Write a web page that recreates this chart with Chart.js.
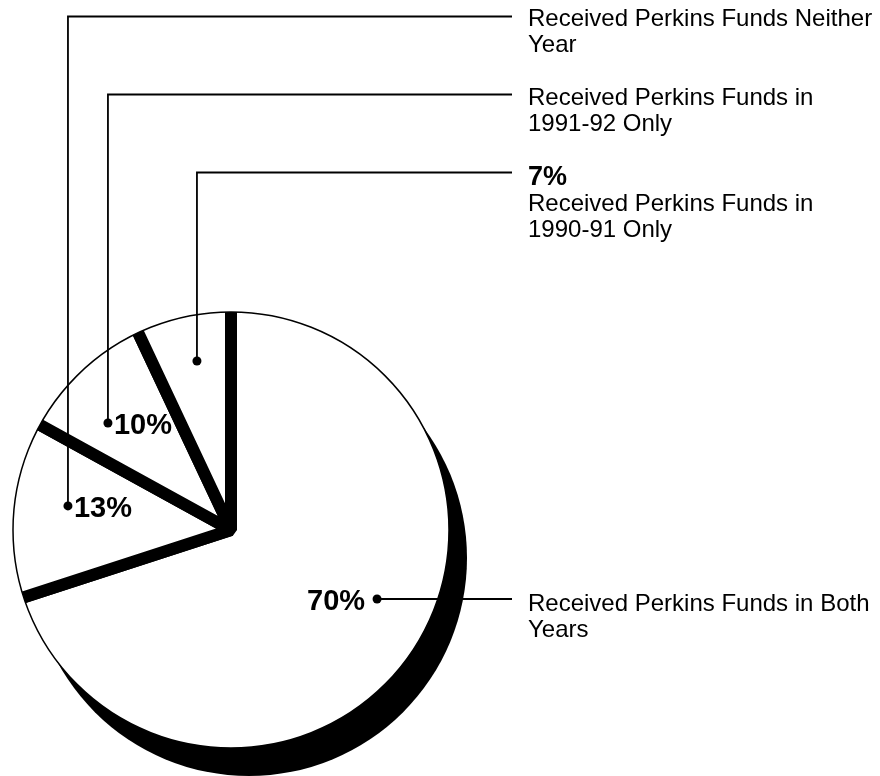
<!DOCTYPE html>
<html>
<head>
<meta charset="utf-8">
<script src="https://cdn.jsdelivr.net/npm/chart.js@4.4.1/dist/chart.umd.min.js"></script>
<style>
  html, body { margin: 0; background: #fff; }
  canvas { display: block; }
</style>
</head>
<body>
<canvas id="grafico" width="880" height="776"></canvas>
<script>

// categorias e percentuais da pizza
const categorias = [
  'Received Perkins Funds in Both Years',
  'Received Perkins Funds Neither Year',
  'Received Perkins Funds in 1991-92 Only',
  'Received Perkins Funds in 1990-91 Only'
];
const percentuais = [70, 13, 10, 7];

// o texto de cada categoria quebrado em linhas do jeito que vai no desenho
const linhasRotulo = [
  ['Received Perkins Funds in Both', 'Years'],
  ['Received Perkins Funds Neither', 'Year'],
  ['Received Perkins Funds in', '1991-92 Only'],
  ['Received Perkins Funds in', '1990-91 Only']
];


// medidas do desenho
const RAIO = 218;        // raio que aparece
const FOLGA = 7;         // o arco do chart.js é maior e depois é recortado
const FAIXA = 12;        // faixa preta entre as fatias
const SOMBRA = { dx: 18, dy: 28 };

// onde cai o ponto de cada fatia: fração do ângulo e fração do raio
const ancoras = [
  { t: 0.4575, r: 0.741 },
  { t: 0.564, r: 0.756 },
  { t: 0.339, r: 0.748 },
  { t: 0.548, r: 0.791 }
];
// altura da linha horizontal de cada rótulo (null = mesma altura do ponto)
const alturaLinha = [null, 16.5, 94.5, 172.5];
// quanto a primeira linha de texto desce em relação à linha de chamada
const desceTexto = [12, 9, 10, 12];
const xFimLinha = 512;
const xTexto = 528;

const fonteTexto = '24px "Liberation Sans", Arial, sans-serif';
const fontePct = 'bold 29px "Liberation Sans", Arial, sans-serif';


// sombra, recorte e rótulos ficam num plugin
const pizzaPlugin = {
  id: 'pizzaPlugin',
  beforeDatasetsDraw(chart) {
    const ctx = chart.ctx;
    const a = chart.getDatasetMeta(0).data[0];

    // sombra preta por baixo
    ctx.save();
    ctx.fillStyle = '#000';
    ctx.beginPath();
    ctx.arc(a.x + SOMBRA.dx, a.y + SOMBRA.dy, RAIO, 0, Math.PI * 2);
    ctx.fill();
    ctx.restore();

    // recorta no circulo, assim a borda grossa só fica entre as fatias
    ctx.save();
    ctx.beginPath();
    ctx.arc(a.x, a.y, RAIO, 0, Math.PI * 2);
    ctx.clip();
  },
  afterDatasetsDraw(chart) {
    const ctx = chart.ctx;
    ctx.restore();

    const arcos = chart.getDatasetMeta(0).data;
    const a0 = arcos[0];

    // contorno fino
    ctx.save();
    ctx.strokeStyle = '#000';
    ctx.lineWidth = 1.5;
    ctx.beginPath();
    ctx.arc(a0.x, a0.y, RAIO, 0, Math.PI * 2);
    ctx.stroke();

    ctx.fillStyle = '#000';
    ctx.lineWidth = 1.8;

    arcos.forEach((a, i) => {
      const ang = a.startAngle + (a.endAngle - a.startAngle) * ancoras[i].t;
      const px = a.x + Math.cos(ang) * RAIO * ancoras[i].r;
      const py = a.y + Math.sin(ang) * RAIO * ancoras[i].r;
      const ly = alturaLinha[i] === null ? py : alturaLinha[i];

      // linha de chamada
      ctx.beginPath();
      ctx.moveTo(px, py);
      if (ly !== py) ctx.lineTo(px, ly);
      ctx.lineTo(xFimLinha, ly);
      ctx.stroke();

      ctx.beginPath();
      ctx.arc(px, py, 4.5, 0, Math.PI * 2);
      ctx.fill();

      const pct = percentuais[i] + '%';
      ctx.textBaseline = 'alphabetic';

      // percentual perto do ponto (o de 7% vai junto do texto)
      ctx.font = fontePct;
      if (i === 0) {
        ctx.textAlign = 'right';
        ctx.fillText(pct, px - 12, py + 11);
      } else if (i < 3) {
        ctx.textAlign = 'left';
        ctx.fillText(pct, px + 6, py + 11);
      }

      ctx.textAlign = 'left';
      let base = ly + desceTexto[i];
      if (i === 3) {
        ctx.font = 'bold 27px "Liberation Sans", Arial, sans-serif';
        ctx.fillText(pct, xTexto, base);
        base += 26;
      }
      ctx.font = fonteTexto;
      linhasRotulo[i].forEach((txt, k) => {
        ctx.fillText(txt, xTexto, base + k * 26);
      });
    });
    ctx.restore();
  }
};


const ctx = document.getElementById('grafico').getContext('2d');

new Chart(ctx, {
  type: 'pie',
  data: {
    labels: categorias,
    datasets: [{
      data: percentuais,
      backgroundColor: '#fff',
      borderColor: '#000',
      borderWidth: FAIXA,
      borderAlign: 'center',
      borderJoinStyle: 'bevel'
    }]
  },
  options: {
    responsive: false,
    animation: false,
    events: [],
    radius: RAIO + FOLGA,
    layout: {
      padding: { left: 0, right: 418, top: 300, bottom: 16 }
    },
    plugins: {
      legend: { display: false },
      tooltip: { enabled: false }
    }
  },
  plugins: [pizzaPlugin]
});

</script>
</body>
</html>
